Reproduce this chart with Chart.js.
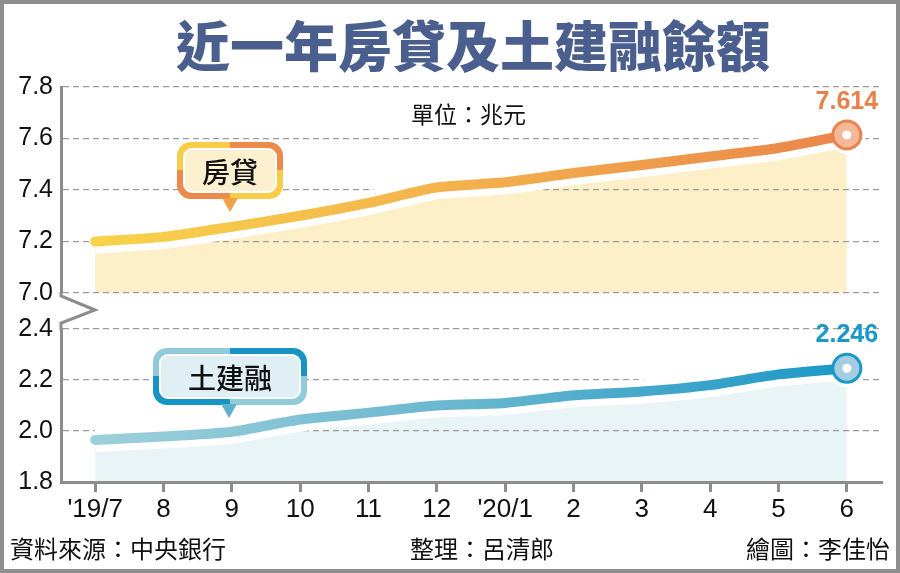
<!DOCTYPE html>
<html lang="zh-Hant">
<head>
<meta charset="utf-8">
<title>近一年房貸及土建融餘額</title>
<script src="https://cdn.jsdelivr.net/npm/chart.js@4.4.1/dist/chart.umd.min.js"></script>
<style>
  html, body { margin: 0; padding: 0; background: #fff; }
  #wrap { position: relative; width: 900px; height: 573px; overflow: hidden; background: #fff;
          font-family: "Noto Sans CJK TC", "Noto Sans", sans-serif; color: #111; }
  #wrap canvas { position: absolute; left: 0; top: 0; }
  .frame { position: absolute; left: 0; top: 0; width: 900px; height: 573px; box-sizing: border-box;
           border: 4px solid #8e8e8e; pointer-events: none; }
  .title { position: absolute; left: 0; top: 12px; width: 946px; text-align: center; font-size: 54px;
           line-height: 64px; font-weight: 900; color: #4b5f8f; }
  .txt { position: absolute; font-size: 23px; line-height: 28px; white-space: nowrap; }
  .callout { position: absolute; border-radius: 14px; }
  .callout .inner { position: absolute; left: 6px; top: 6px; right: 6px; bottom: 6px; border-radius: 9px;
                    box-sizing: border-box; border: 2px solid #fff; display: flex; align-items: center;
                    justify-content: center; font-size: 28px; font-weight: 500; color: #111; }
  .tail { position: absolute; width: 0; height: 0; border-left: 8px solid transparent;
          border-right: 8px solid transparent; border-top: 14px solid; }
  .c1 { background: linear-gradient(to bottom, #f7cc46 50%, #ec8a4b 50%) left / 50% 100% no-repeat,
                    linear-gradient(to bottom, #ec8a4b 50%, #f7cc46 50%) right / 50% 100% no-repeat; }
  .c1 .inner { background: #fdf0cf; }
  .c2 { background: linear-gradient(to bottom, #8fcbd8 50%, #1695c4 50%) left / 50% 100% no-repeat,
                    linear-gradient(to bottom, #1695c4 50%, #8fcbd8 50%) right / 50% 100% no-repeat; }
  .c2 .inner { background: #dfeff3; }
</style>
</head>
<body>
<div id="wrap">
  <canvas id="upper" width="900" height="573"></canvas>
  <canvas id="lower" width="900" height="573"></canvas>

  <div class="title">近一年房貸及土建融餘額</div>
  <div class="txt" style="left:411px; top:99px;">單位：兆元</div>

  <div class="callout c1" style="left:177px; top:142px; width:106px; height:57px;"><div class="inner">房貸</div></div>
  <div class="tail" style="left:222px; top:198px; border-top-color:#f0a44a;"></div>

  <div class="callout c2" style="left:153px; top:348px; width:154px; height:57px;"><div class="inner">土建融</div></div>
  <div class="tail" style="left:221px; top:404px; border-top-color:#5fb2cb;"></div>

  <div class="txt" style="left:10px; top:534px; font-size:24px;">資料來源：中央銀行</div>
  <div class="txt" style="left:410px; top:534px; font-size:24px;">整理：呂清郎</div>
  <div class="txt" style="right:10px; top:534px; font-size:24px;">繪圖：李佳怡</div>

  <div class="frame"></div>
</div>

<script>
// data (兆元)
const months = ["'19/7", "8", "9", "10", "11", "12", "'20/1", "2", "3", "4", "5", "6"];
const mortgage     = [7.200, 7.218, 7.257, 7.300, 7.350, 7.410, 7.430, 7.466, 7.497, 7.530, 7.563, 7.614];
const construction = [1.965, 1.978, 1.997, 2.045, 2.072, 2.100, 2.110, 2.140, 2.155, 2.180, 2.222, 2.246];
const mortgageTicks     = [7.0, 7.2, 7.4, 7.6, 7.8];
const constructionTicks = [1.8, 2.0, 2.2, 2.4];

const GRID = '#9d9d9d';
const AXIS = '#8c8c8c';
const NUM_FONT = '"Liberation Sans", Arial, sans-serif';

Chart.defaults.font.family = NUM_FONT;
Chart.defaults.color = '#111';

function lineGradient(stops) {
  return ctx => {
    const area = ctx.chart.chartArea;
    if (!area) return stops[stops.length - 1][1];
    const g = ctx.chart.ctx.createLinearGradient(area.left, 0, area.right, 0);
    stops.forEach(([o, c]) => g.addColorStop(o, c));
    return g;
  };
}

// white dot in the end marker + value label above it
const endMarker = {
  id: 'endMarker',
  afterDatasetsDraw(chart, args, opts) {
    const meta = chart.getDatasetMeta(0);
    const i = meta.data.length - 1;
    const pt = meta.data[i];
    const ctx = chart.ctx;
    ctx.save();
    ctx.fillStyle = '#fff';
    ctx.beginPath();
    ctx.arc(pt.x, pt.y, 4.5, 0, Math.PI * 2);
    ctx.fill();
    ctx.font = 'bold 25px ' + NUM_FONT;
    ctx.fillStyle = opts.color;
    ctx.textAlign = 'center';
    ctx.textBaseline = 'alphabetic';
    ctx.fillText(chart.data.datasets[0].data[i].toFixed(3), pt.x, pt.y - 26);
    ctx.restore();
  }
};

// zig-zag break between the two value ranges
const axisBreak = {
  id: 'axisBreak',
  afterDraw(chart) {
    const { left, top } = chart.chartArea;
    const ctx = chart.ctx;
    ctx.save();
    ctx.strokeStyle = AXIS;
    ctx.lineWidth = 3;
    ctx.beginPath();
    ctx.moveTo(left, top - 37);
    ctx.lineTo(left, top - 33);
    ctx.lineTo(left + 34, top - 19);
    ctx.lineTo(left, top - 6);
    ctx.lineTo(left, top + 1);
    ctx.stroke();
    ctx.restore();
  }
};

function panel(id, values, ticks, c, padding, showX) {
  const last = values.length - 1;
  return new Chart(document.getElementById(id), {
    type: 'line',
    data: {
      labels: months,
      datasets: [
        { // coloured line with end marker
          data: values, order: 1, fill: false, tension: 0.2,
          borderColor: lineGradient(c.line), borderWidth: 10,
          borderCapStyle: 'round', borderJoinStyle: 'round',
          pointRadius: p => p.dataIndex === last ? 14 : 0,
          pointBackgroundColor: c.dotFill, pointBorderColor: c.dotEdge, pointBorderWidth: 3
        },
        { // area + white halo under the line
          data: values, order: 2, fill: 'start', tension: 0.2,
          backgroundColor: c.area, borderColor: '#fff', borderWidth: 24, borderCapStyle: 'butt',
          pointRadius: p => p.dataIndex === last ? 19 : 0,
          pointBackgroundColor: '#fff', pointBorderWidth: 0
        }
      ]
    },
    options: {
      responsive: false, animation: false, events: [],
      layout: { padding },
      plugins: {
        legend: { display: false }, tooltip: { enabled: false },
        filler: { drawTime: 'beforeDraw' },
        endMarker: { color: c.label }
      },
      scales: {
        x: {
          display: showX, offset: true,
          afterFit: s => { if (showX) s.height = 40; },
          grid: { drawOnChartArea: false, drawTicks: true, tickLength: 10, color: AXIS, lineWidth: 3 },
          border: { display: true, color: AXIS, width: 3 },
          ticks: { font: { size: 26 }, color: '#111', padding: 2, maxRotation: 0, autoSkip: false }
        },
        y: {
          min: ticks[0], max: ticks[ticks.length - 1],
          afterFit: s => { s.width = 61; },
          afterBuildTicks: s => { s.ticks = ticks.map(v => ({ value: v })); },
          grid: { drawTicks: false, lineWidth: 1.3,
                  color: g => (showX && g.index === 0) ? 'rgba(0,0,0,0)' : GRID },
          border: { display: true, color: AXIS, width: 3, dash: [6, 4] },
          ticks: { font: { size: 25 }, color: '#111', padding: 8, callback: v => v.toFixed(1) }
        }
      }
    },
    plugins: showX ? [endMarker, axisBreak] : [endMarker]
  });
}

panel('upper', mortgage, mortgageTicks, {
  line: [[0, '#f8d64a'], [0.5, '#f3b04c'], [1, '#e9814b']],
  area: '#fdf0c8', dotFill: '#f4b899', dotEdge: '#e9824b', label: '#e8804a'
}, { top: 87, right: 15, bottom: 280, left: 0 }, false);

panel('lower', construction, constructionTicks, {
  line: [[0, '#a2d2db'], [0.5, '#68b6cf'], [1, '#1495c5']],
  area: '#e9f4f6', dotFill: '#a4cde2', dotEdge: '#1b98c8', label: '#1a98c8'
}, { top: 329, right: 15, bottom: 51, left: 0 }, true);
</script>
</body>
</html>
